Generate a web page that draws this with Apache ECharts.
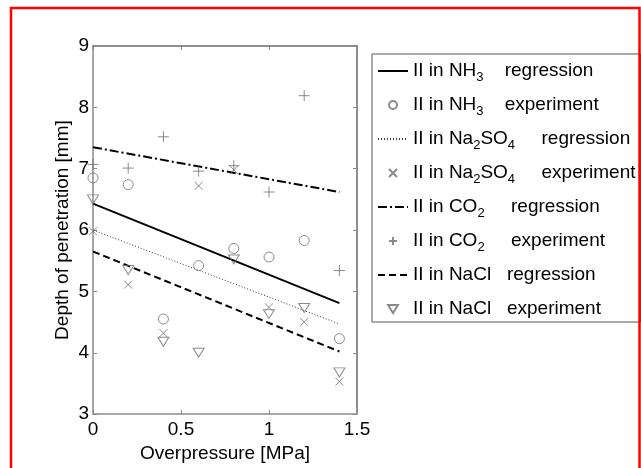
<!DOCTYPE html>
<html>
<head>
<meta charset="utf-8">
<script src="https://cdn.jsdelivr.net/npm/echarts@6/dist/echarts.min.js"></script>
<style>
html,body{margin:0;padding:0;background:#fff;}
#c{width:641px;height:468px;}
</style>
</head>
<body>
<div id="c"></div>
<script>
// ---- data ----
var pressures = [0, 0.2, 0.4, 0.6, 0.8, 1.0, 1.2, 1.4];
var regX = [0, 1.4];

var nh3Exp    = [6.85, 6.74, 4.55, 5.42, 5.70, 5.56, 5.83, 4.23];
var na2so4Exp = [5.98, 5.11, 4.32, 6.72, 6.98, 4.74, 4.50, 3.53];
var co2Exp    = [7.07, 7.01, 7.52, 6.96, 7.05, 6.62, 8.19, 5.34];
var naclExp   = [6.50, 5.35, 4.18, 4.00, 5.52, 4.63, 4.73, 3.68];

var nh3Reg    = [6.43, 4.81];
var na2so4Reg = [6.00, 4.47];
var co2Reg    = [7.35, 6.62];
var naclReg   = [5.65, 4.02];

var xTicks = {min: 0, max: 1.5, interval: 0.5};
var yTicks = {min: 3, max: 9, interval: 1};

var legendNames = [
  'NH3 regression', 'NH3 experiment',
  'Na2SO4 regression', 'Na2SO4 experiment',
  'CO2 regression', 'CO2 experiment',
  'NaCl regression', 'NaCl experiment'
];
var legendLabels = {
  'NH3 regression':    '{n|II in NH}{s|3}{n|    regression}',
  'NH3 experiment':    '{n|II in NH}{s|3}{n|    experiment}',
  'Na2SO4 regression': '{n|II in Na}{s|2}{n|SO}{s|4}{n|     regression}',
  'Na2SO4 experiment': '{n|II in Na}{s|2}{n|SO}{s|4}{n|     experiment}',
  'CO2 regression':    '{n|II in CO}{s|2}{n|     regression}',
  'CO2 experiment':    '{n|II in CO}{s|2}{n|     experiment}',
  'NaCl regression':   '{n|II in NaCl   regression}{s| }',
  'NaCl experiment':   '{n|II in NaCl   experiment}{s| }'
};

function pairs(xs, ys) { return xs.map(function (x, i) { return [x, ys[i]]; }); }

var FONT = 'Liberation Sans, Arial, sans-serif';
var MARK = '#6e6e6e';

function regSeries(name, ys, width, type, color) {
  return {
    name: name, type: 'line', data: pairs(regX, ys), symbol: 'none',
    lineStyle: {color: color, width: width, type: type},
    itemStyle: {color: 'rgba(0,0,0,0)', borderWidth: 0, opacity: 0},
    silent: true, z: 2
  };
}
function expSeries(name, ys, symbol, size) {
  return {
    name: name, type: 'scatter', data: pairs(pressures, ys),
    symbol: symbol, symbolSize: size,
    itemStyle: {color: 'rgba(0,0,0,0)', borderColor: MARK, borderWidth: 1},
    z: 3
  };
}

var legendData = legendNames.map(function (n) {
  if (n.indexOf('regression') > -1) {
    return {name: n, itemStyle: {opacity: 0, color: 'rgba(0,0,0,0)', borderWidth: 0}};
  }
  return {name: n};
});

var chart = echarts.init(document.getElementById('c'), null, {renderer: 'canvas'});
var axisCommon = {
  splitLine: {show: false},
  axisTick: {inside: true, length: 4, lineStyle: {color: '#888', width: 1}}
};
chart.setOption({
  animation: false,
  backgroundColor: '#fff',
  textStyle: {fontFamily: FONT},
  grid: {left: 93, top: 46, right: 284, bottom: 48},
  graphic: [{
    type: 'rect', silent: true, z: 100,
    shape: {x: 11, y: 8, width: 628.5, height: 480},
    style: {fill: 'none', stroke: '#ff0000', lineWidth: 2.5}
  }],
  xAxis: [Object.assign({
    type: 'value', position: 'bottom', min: xTicks.min, max: xTicks.max, interval: xTicks.interval,
    name: 'Overpressure [MPa]', nameLocation: 'middle', nameGap: 28,
    nameTextStyle: {fontSize: 19, color: '#000', fontFamily: FONT},
    axisLine: {show: true, onZero: false, lineStyle: {color: '#a8a8a8', width: 2}},
    axisLabel: {fontSize: 19, color: '#000', margin: 6, fontFamily: FONT,
      formatter: function (v) { return String(v); }}
  }, axisCommon), Object.assign({
    type: 'value', position: 'top', min: xTicks.min, max: xTicks.max, interval: xTicks.interval,
    axisLine: {show: true, onZero: false, lineStyle: {color: '#6a6a6a', width: 1.5}},
    axisLabel: {show: false}
  }, axisCommon)],
  yAxis: [Object.assign({
    type: 'value', position: 'left', min: yTicks.min, max: yTicks.max, interval: yTicks.interval,
    name: 'Depth of penetration [mm]', nameLocation: 'middle', nameGap: 21,
    nameTextStyle: {fontSize: 19, color: '#000', fontFamily: FONT},
    axisLine: {show: true, onZero: false, lineStyle: {color: '#a8a8a8', width: 2}},
    axisLabel: {fontSize: 19, color: '#000', margin: 4, fontFamily: FONT}
  }, axisCommon), Object.assign({
    type: 'value', position: 'right', min: yTicks.min, max: yTicks.max, interval: yTicks.interval,
    axisLine: {show: true, onZero: false, lineStyle: {color: '#909090', width: 2}},
    axisLabel: {show: false}
  }, axisCommon)],
  legend: {
    orient: 'vertical', left: 372, top: 54,
    data: legendData,
    itemWidth: 30, itemHeight: 8, itemGap: 8,
    padding: [4, 5, 0, 5],
    borderColor: '#555', borderWidth: 1, backgroundColor: '#fff',
    selectedMode: false,
    formatter: function (name) { return legendLabels[name]; },
    textStyle: {
      color: '#000', fontFamily: FONT, fontSize: 19,
      rich: {
        n: {fontSize: 19, color: '#000', fontFamily: FONT, lineHeight: 19},
        s: {fontSize: 13, color: '#000', fontFamily: FONT, lineHeight: 13, padding: [13, 0, 0, 0]}
      }
    }
  },
  series: [
    regSeries('NH3 regression', nh3Reg, 2, 'solid', '#000'),
    expSeries('NH3 experiment', nh3Exp, 'circle', 10),
    regSeries('Na2SO4 regression', na2so4Reg, 1, [1, 2], '#333'),
    expSeries('Na2SO4 experiment', na2so4Exp, 'path://M0,0L8,8M8,0L0,8', 8),
    regSeries('CO2 regression', co2Reg, 2, [9, 3, 2, 3], '#000'),
    expSeries('CO2 experiment', co2Exp, 'path://M5,0L5,10M0,5L10,5', 11),
    regSeries('NaCl regression', naclReg, 2, [7, 4], '#000'),
    expSeries('NaCl experiment', naclExp, 'path://M0,0L11,0L5.5,9Z', [11, 9])
  ]
});
</script>
</body>
</html>
